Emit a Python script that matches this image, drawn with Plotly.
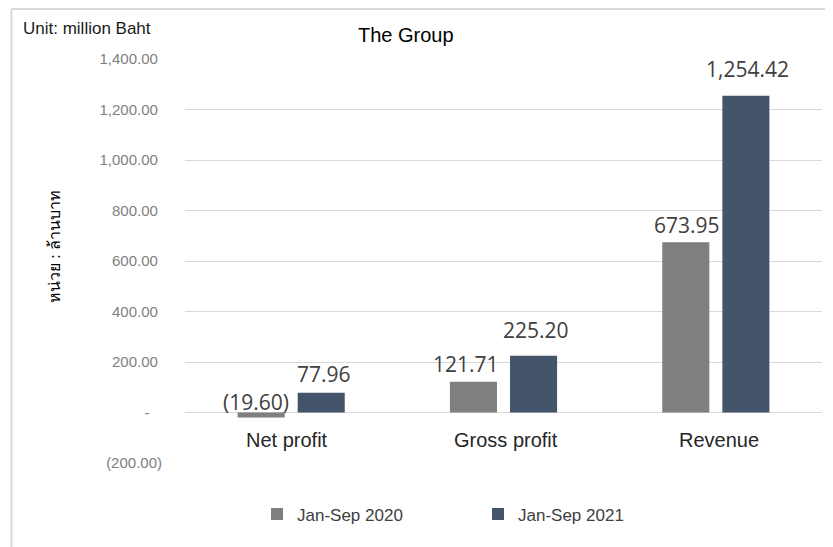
import plotly.graph_objects as go

categories = ["Net profit", "Gross profit", "Revenue"]
series_names = ["Jan-Sep 2020", "Jan-Sep 2021"]
values_2020 = [-19.60, 121.71, 673.95]
values_2021 = [77.96, 225.20, 1254.42]
tick_values = [-200, 0, 200, 400, 600, 800, 1000, 1200, 1400]

colors = ["#7f7f7f", "#44546a"]

# page body has an 8px margin; work in reference (window) pixel coordinates
OFF = 8
W, H = 833 - OFF, 547 - OFF
PLOT_L, PLOT_R, PLOT_T, PLOT_B = 185, 822, 59, 463.5  # window px
ML, MR, MT, MB = PLOT_L - OFF, 833 - PLOT_R, PLOT_T - OFF, 547 - PLOT_B
PW = PLOT_R - PLOT_L
PH = PLOT_B - PLOT_T


def px_x(px):
    return (px - PLOT_L) / PW


def px_y(py):
    return (PLOT_B - py) / PH


def fmt_label(v):
    return f"({abs(v):,.2f})" if v < 0 else f"{v:,.2f}"


def fmt_tick(v):
    if v == 0:
        return "-\u00a0\u00a0\u00a0"
    if v < 0:
        return f"({abs(v):,.2f})"
    return f"{v:,.2f}\u00a0"


bargap = 0.434
bargroupgap = 0.217

fig = go.Figure()
for name, vals, col in zip(series_names, [values_2020, values_2021], colors):
    fig.add_trace(go.Bar(x=categories, y=vals, name=name, marker_color=col,
                         marker_line_width=0, hoverinfo="skip"))

# data labels
half = (1 - bargap) / 4
label_shift_x = [[-5.5, -7.5, 1.5], [3, 2.5, 2]]
label_shift_y = [[11, 18, 17.6], [19, 25.6, 26.5]]
annotations = []
for s, vals in enumerate([values_2020, values_2021]):
    off = -half if s == 0 else half
    for i, v in enumerate(vals):
        annotations.append(dict(
            x=i + off, y=max(v, 0), xref="x", yref="y",
            text=fmt_label(v), showarrow=False,
            xanchor="center", yanchor="middle",
            xshift=label_shift_x[s][i], yshift=label_shift_y[s][i],
            font=dict(family="Open Sans", size=21, color="#404040"),
        ))

# category labels near zero line
cat_shift = [-4, 2, 3]
for i, c in enumerate(categories):
    annotations.append(dict(
        x=i, y=0, xref="x", yref="y", text=c, showarrow=False,
        xanchor="center", yanchor="middle", yshift=-27, xshift=cat_shift[i],
        font=dict(family="Liberation Sans", size=20, color="#262626"),
    ))

annotations.append(dict(
    x=px_x(21), y=px_y(28), xref="paper", yref="paper",
    text="Unit: million Baht", showarrow=False, xanchor="left", yanchor="middle",
    font=dict(family="Liberation Sans", size=17, color="#1a1a1a"),
))
annotations.append(dict(
    x=px_x(406), y=px_y(35), xref="paper", yref="paper",
    text="The Group", showarrow=False, xanchor="center", yanchor="middle",
    font=dict(family="Liberation Sans", size=20, color="#000000"),
))
annotations.append(dict(
    x=px_x(55), y=px_y(247), xref="paper", yref="paper",
    text="หน่วย : ล้านบาท", showarrow=False, textangle=-90,
    xanchor="center", yanchor="middle",
    font=dict(family="serif", size=16, color="#000000"),
))

shapes = [
    dict(type="line", xref="paper", yref="paper",
         x0=px_x(11.5), x1=px_x(11.5), y0=px_y(9), y1=px_y(560),
         line=dict(color="#d9d9d9", width=2)),
    dict(type="line", xref="paper", yref="paper",
         x0=px_x(11.5), x1=px_x(845), y0=px_y(9), y1=px_y(9),
         line=dict(color="#d9d9d9", width=2)),
]

fig.update_layout(
    width=W, height=H,
    margin=dict(l=ML, r=MR, t=MT, b=MB, pad=0),
    paper_bgcolor="white", plot_bgcolor="white",
    barmode="group", bargap=bargap, bargroupgap=bargroupgap,
    showlegend=True,
    legend=dict(orientation="h", x=px_x(257), xanchor="left",
                y=px_y(515), yanchor="middle", entrywidth=176,
                font=dict(family="Liberation Sans", size=17, color="#404040"),
                bgcolor="rgba(0,0,0,0)"),
    xaxis=dict(type="category", showticklabels=False, showgrid=False,
               zeroline=False, showline=False, ticks="",
               range=[-0.5, 2.5]),
    yaxis=dict(range=[-200, 1400], tickvals=tick_values,
               ticktext=[fmt_tick(v) for v in tick_values],
               showgrid=True, gridcolor="#d9d9d9", gridwidth=1.3,
               zeroline=True, zerolinecolor="#d9d9d9", zerolinewidth=1.3,
               showline=False, ticks="", ticklabelstandoff=22,
               tickfont=dict(family="Liberation Sans", size=15, color="#7f7f7f")),
    annotations=annotations,
    shapes=shapes,
    hovermode=False,
)

fig.write_html("out.html")
